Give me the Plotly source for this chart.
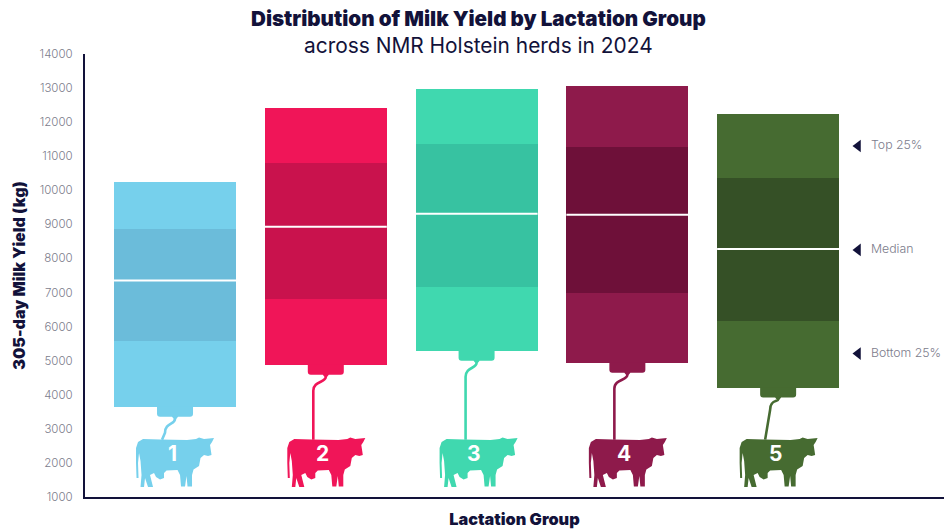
import plotly.graph_objects as go

groups = [1, 2, 3, 4, 5]
minimum = [3650, 4880, 5290, 4940, 4210]
q1 = [5590, 6820, 7170, 6990, 6170]
median = [7350, 8930, 9310, 9280, 8280]
q3 = [8870, 10800, 11360, 11270, 10360]
maximum = [10250, 12420, 12970, 13060, 12240]

light = ["#76D0EC", "#F01558", "#40D8AF", "#8E1A4B", "#466B31"]
dark = ["#6BBCDA", "#C9124D", "#37C2A1", "#6E1039", "#355026"]
NAVY = "#12123A"
GREY = "#7C7C8C"

tick_values = list(range(1000, 15000, 1000))
note_labels = ["Top 25%", "Median", "Bottom 25%"]
note_values = [11300, 8250, 5210]

# Plot-area geometry in pixels
L, R, T, B = 85, 0, 54, 31.5
W, H = 944, 529
PH = H - T - B
X0, X1 = 0.403, 6.1
PX = (W - L - R) / (X1 - X0)
BAR = 122 / PX

# Silhouette in px, relative to group centre and the 2000 kg level
cow = [(-37, -21), (-32, -24), (-15, -23.5), (12, -23), (21, -24), (24, -25.5), (29, -24), (34, -24.5), (39, -25),
       (37, -21), (35, -18), (36, -11.5), (36.5, -8), (33, -7), (29, -8), (25.5, -5), (24, 3), (18.5, 6.5),
       (17, 12), (17, 23.5), (12.5, 23.5), (11.5, 13), (10, 23.5), (6, 23.5), (5, 12), (2.5, 7),
       (-8.5, 7.5), (-11, 10), (-11, 15), (-15, 16.5), (-19, 14), (-21, 10), (-25, 12), (-22, 24), (-27, 24),
       (-30, 15), (-31, 24), (-34.5, 24), (-33.5, 12), (-34.5, -2), (-36, -10), (-37, 0), (-36.5, 15),
       (-38.5, 15), (-39, 0), (-39, -15)]
cow_shift = [0, 0.5, 2, 0.5, 0.5]
udder = "M -18,0 L 18,0 L 18,7 Q 18,10 15,10 L 3,10 L 1,12.5 L -1,12.5 L -3,10 L -15,10 Q -18,10 -18,7 Z"
kink_top = [-10, -12.5, -11, -13, -8]    # sideways offset of the line after its first bend
kink_end = [-13, -12.5, -11, -13, -13]   # sideways offset where the line meets the cow
drop = [33, 75, 89, 77, 52]              # milk line length below the bar
bend = [18, 18, 18, 18, 14]

def neg(pts, dx=0):
    return "M " + " L ".join(f"{x + dx},{-y}" for x, y in pts) + " Z"

def flip(path):
    out, isx = [], True
    for tok in path.replace(",", " ").split():
        if tok.isalpha():
            out.append(tok)
        else:
            out.append(tok if isx else str(-float(tok)))
            isx = not isx
    return " ".join(out)

fig = go.Figure()
levels = [(minimum, q1, light), (q1, median, dark), (median, q3, dark), (q3, maximum, light)]
for lo, hi, col in levels:
    fig.add_trace(go.Bar(x=groups, y=[h - l for h, l in zip(hi, lo)], base=lo, width=BAR,
                         marker=dict(color=col, line=dict(width=0)), showlegend=False))

for g, m in zip(groups, median):
    fig.add_trace(go.Scatter(x=[g - BAR / 2, g + BAR / 2], y=[m, m], mode="lines",
                             line=dict(color="white", width=2), showlegend=False))

note_x = [1 + (858 - 175) / PX] * 3
text_x = [1 + (871 - 175) / PX] * 3
fig.add_trace(go.Scatter(x=note_x, y=note_values, mode="markers", showlegend=False, cliponaxis=False,
                         marker=dict(symbol="triangle-left", size=11, color=NAVY)))
fig.add_trace(go.Scatter(x=text_x, y=note_values, mode="text", text=note_labels, textposition="middle right",
                         textfont=dict(family="Inter", size=12.3, weight=300, color=GREY),
                         showlegend=False, cliponaxis=False))

shapes, annotations = [], []
for i, g in enumerate(groups):
    common = dict(xref="x", yref="y", xsizemode="pixel", ysizemode="pixel", xanchor=g, layer="above")
    shapes.append(dict(type="path", path=neg(cow, cow_shift[i]), yanchor=2000, fillcolor=light[i],
                       line=dict(width=0), **common))
    shapes.append(dict(type="path", path=flip(udder), yanchor=minimum[i], fillcolor=light[i], line=dict(width=0), **common))
    k, k2, d, b = kink_top[i], kink_end[i], drop[i], bend[i]
    tube = f"M 0,12 C 0,{b} {k},{b-2} {k},{b+8} L {k2},{d}"
    shapes.append(dict(type="path", path=flip(tube), yanchor=minimum[i], fillcolor="rgba(0,0,0,0)",
                       line=dict(color=light[i], width=2.6), **common))
    annotations.append(dict(x=g, y=2275, xref="x", yref="y", xshift=-3, text=f"<b>{g}</b>", showarrow=False,
                            font=dict(family="Inter", size=21, color="white")))

def py(px):
    return 1 + (T - px) / PH

annotations += [
    dict(x=(478 - L) / (W - L - R), y=py(18), xref="paper", yref="paper", yanchor="middle", showarrow=False,
         text="Distribution of Milk Yield by Lactation Group",
         font=dict(family="Inter", size=20.6, weight=900, color=NAVY)),
    dict(x=(478 - L) / (W - L - R), y=py(45), xref="paper", yref="paper", yanchor="middle", showarrow=False,
         text="across NMR Holstein herds in 2024", font=dict(family="Inter", size=20.9, color=NAVY)),
]

fig.update_layout(
    width=W, height=H, autosize=False, margin=dict(l=L, r=R, t=T, b=B, pad=0),
    plot_bgcolor="white", paper_bgcolor="white", barmode="overlay", bargap=0,
    shapes=shapes, annotations=annotations,
    xaxis=dict(range=[X0, X1], showgrid=False, zeroline=False, showticklabels=False, ticks="",
               showline=True, linecolor=NAVY, linewidth=2,
               title=dict(text="Lactation Group", standoff=18,
                          font=dict(family="Inter", size=16.3, weight=900, color=NAVY))),
    yaxis=dict(range=[1000, 14000], tickvals=tick_values, tickformat="d", showgrid=False, zeroline=False, ticks="",
               showline=True, linecolor=NAVY, linewidth=2, ticklabelstandoff=8,
               tickfont=dict(family="Inter", size=11.5, weight=300, color=GREY),
               title=dict(text="305-day Milk Yield (kg)", standoff=10,
                          font=dict(family="Inter", size=16, weight=900, color=NAVY))),
)
fig.write_html("out.html", post_script="document.body.style.margin='0';",
               config={"displayModeBar": False})
